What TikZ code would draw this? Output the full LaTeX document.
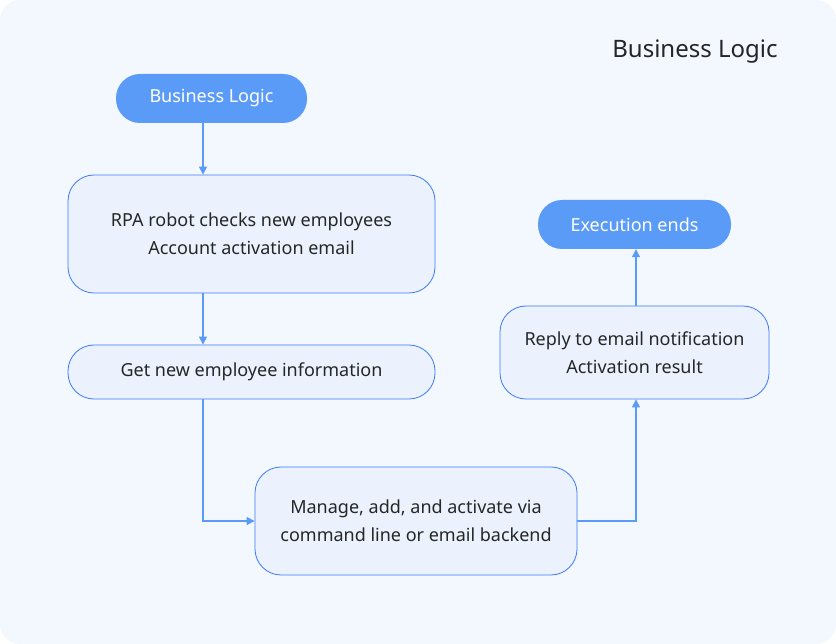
\documentclass[tikz,border=0pt]{standalone}
\usepackage{fontspec}
\setmainfont{Noto Sans}
\usetikzlibrary{arrows.meta}
\definecolor{bgblue}{HTML}{F3F7FE}
\definecolor{pillblue}{HTML}{5B9BF8}
\definecolor{boxfill}{HTML}{EBF2FE}
\definecolor{boxline}{HTML}{3C7BF5}
\definecolor{linkblue}{HTML}{5B9BF8}
\begin{document}
\begin{tikzpicture}[
    x=1pt, y=-1pt,
    pill/.style={rectangle, rounded corners=24pt, fill=pillblue, text=white, minimum height=49pt, align=center, font=\fontsize{18}{22}\selectfont},
    box/.style={rectangle, rounded corners=26pt, draw=boxline, fill=boxfill, line width=0.8pt, align=center, text=black!85, font=\fontsize{18}{28}\selectfont},
    arrow/.style={-{Triangle[length=8pt,width=8pt]}, draw=linkblue, line width=1.2pt},
]
    % Background
    \fill[bgblue, rounded corners=20pt] (0,0) rectangle (836,644);
    \node[text=black!85, font=\fontsize{24}{28}\selectfont] (title) at (695,52) {Business Logic};

    % Nodes
    \node[pill, minimum width=191pt] (start) at (211.5,98.5) {Business Logic};
    \node[box, minimum width=367pt, minimum height=118pt] (check) at (251.5,234) {RPA robot checks new employees\\Account activation email};
    \node[box, minimum width=367pt, minimum height=54pt] (info) at (251.5,372) {Get new employee information};
    \node[box, minimum width=322pt, minimum height=108pt] (manage) at (416,521) {Manage, add, and activate via\\command line or email backend};
    \node[box, minimum width=269pt, minimum height=93pt] (reply) at (634.5,352.5) {Reply to email notification\\Activation result};
    \node[pill, minimum width=193pt] (end) at (634.5,224.5) {Execution ends};

    % Arrows
    \draw[arrow] (start.south -| 203,0) -- (check.north -| 203,0);
    \draw[arrow] (check.south -| 203,0) -- (info.north -| 203,0);
    \draw[arrow] (info.south -| 203,0) |- (manage.west);
    \draw[arrow] (manage.east) -| (reply.south -| 636,0);
    \draw[arrow] (reply.north -| 636,0) -- (end.south -| 636,0);
\end{tikzpicture}
\end{document}
